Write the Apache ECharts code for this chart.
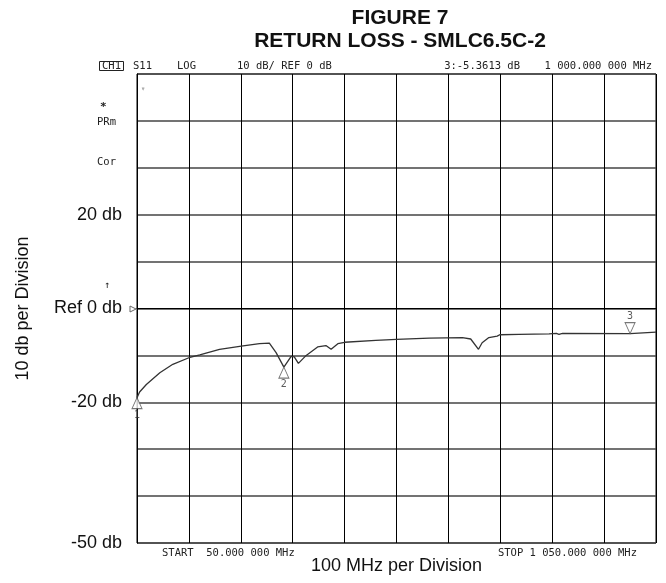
<!DOCTYPE html>
<html>
<head>
<meta charset="UTF-8" />
<script src="https://cdn.jsdelivr.net/npm/echarts@6/dist/echarts.min.js"></script>
<style>
  html, body, #main { margin: 0; padding: 0; width: 666px; height: 583px; background: #fff; }
</style>
</head>
<body>
<div id="main"></div>
<script>
  // sweep: 50 MHz to 1050 MHz, 100 MHz per division
  const START_MHZ = 50;
  const FREQ_MHZ = [50, 55, 68, 94, 119, 150, 171, 209, 251, 286, 305, 318, 333, 347, 353, 361, 376, 398,
    414, 424, 437, 450, 510, 550, 613, 677, 693, 708, 715, 728, 744, 749, 786, 844, 858, 863, 870, 1000, 1050];
  const RL_DB = [-19.0, -17.8, -16.2, -13.7, -11.9, -10.5, -9.9, -8.7, -8.0, -7.5, -7.4, -9.4, -12.5, -10.2,
    -10.3, -11.7, -10.0, -8.2, -7.9, -8.7, -7.5, -7.2, -6.8, -6.6, -6.3, -6.2, -6.5, -8.7, -7.3, -6.2,
    -5.9, -5.6, -5.5, -5.4, -5.3, -5.5, -5.3, -5.36, -5.05];

  const MARKER_MHZ = [50, 333, 1000];
  const MARKER_DB = [-19.0, -12.5, -5.36];
  const MARKER_NAMES = ['1', '2', '3'];

  const Y_LABELS = { '20': '20 db', '0': 'Ref 0 db', '-20': '-20 db', '-50': '-50 db' };

  const mono = 'DejaVu Sans Mono';
  const sans = 'Liberation Sans';

  const chart = echarts.init(document.getElementById('main'));

  const txt = (x, y, text, align, extra) => ({
    type: 'text', x: x, y: y,
    style: Object.assign({ text: text, font: '10.5px "' + mono + '"', fill: '#222',
      textAlign: align || 'left', textVerticalAlign: 'middle' }, extra || {})
  });

  const option = {
    animation: false,
    title: {
      text: 'FIGURE 7\nRETURN LOSS - SMLC6.5C-2',
      left: 395, top: 2, textAlign: 'center',
      textStyle: { fontSize: 21, fontWeight: 'bold', fontFamily: sans, color: '#111', lineHeight: 23 }
    },
    grid: { left: 137, right: 10, top: 74, bottom: 40, show: true, borderColor: '#000', borderWidth: 1,
      containLabel: false, outerBoundsMode: 'none' },
    xAxis: {
      type: 'value', min: 0, max: 1000, interval: 100,
      name: '100 MHz per Division', nameLocation: 'middle', nameGap: 14,
      nameTextStyle: { fontSize: 18, fontFamily: sans, color: '#111' },
      axisLine: { show: true, lineStyle: { color: '#000' } },
      axisTick: { show: false }, axisLabel: { show: false },
      splitLine: { show: true, lineStyle: { color: '#000', width: 1 } }
    },
    yAxis: {
      type: 'value', min: -50, max: 50, interval: 10,
      name: '10 db per Division', nameLocation: 'middle', nameGap: 105, nameRotate: 90,
      nameTextStyle: { fontSize: 18, fontFamily: sans, color: '#111' },
      axisLine: { show: true, lineStyle: { color: '#000' } },
      axisTick: { show: false },
      axisLabel: {
        margin: 15, fontSize: 18, fontFamily: sans, color: '#111',
        formatter: v => Y_LABELS[String(v)] || ''
      },
      splitLine: { show: true, lineStyle: { color: '#444', width: 1.5 } }
    },
    series: [
      {
        type: 'line',
        data: FREQ_MHZ.map((f, i) => [f - START_MHZ, RL_DB[i]]),
        showSymbol: false,
        lineStyle: { color: '#333', width: 1.3 }
      },
      {
        type: 'scatter',
        clip: false,
        symbol: 'triangle',
        symbolSize: [10, 11],
        itemStyle: { color: '#fff', borderColor: '#555', borderWidth: 1 },
        label: { show: true, fontFamily: mono, fontSize: 10, color: '#333',
          formatter: p => MARKER_NAMES[p.dataIndex] },
        data: MARKER_MHZ.map((f, i) => {
          const up = i < 2;
          return {
            value: [f - START_MHZ, MARKER_DB[i]],
            symbolRotate: up ? 0 : 180,
            symbolOffset: [0, up ? 5.5 : -5.5],
            label: { position: up ? 'bottom' : 'top', distance: 1 }
          };
        }),
        z: 5
      }
    ],
    graphic: [
      { type: 'rect', shape: { x: 99.5, y: 61.5, width: 24, height: 9 },
        style: { fill: 'none', stroke: '#222', lineWidth: 1 } },
      txt(111.5, 66, 'CH1', 'center'),
      txt(133, 66, 'S11'),
      txt(177, 66, 'LOG'),
      txt(237, 66, '10 dB/ REF 0 dB'),
      txt(520, 66, '3:-5.3613 dB', 'right'),
      txt(652, 66, '1 000.000 000 MHz', 'right'),
      txt(100, 107, '*', 'left', { font: 'bold 11px "' + mono + '"' }),
      txt(97, 122, 'PRm'),
      txt(97, 162, 'Cor'),
      txt(107, 285, '\u2191', 'center', { font: '10px "' + mono + '"' }),
      txt(143, 89, '\u25bf', 'center', { font: '7px "' + mono + '"', fill: '#555' }),
      { type: 'polygon', shape: { points: [[130, 306], [136, 309], [130, 312]] },
        style: { fill: '#fff', stroke: '#666', lineWidth: 1 } },
      txt(162, 553, 'START  50.000 000 MHz'),
      txt(637, 553, 'STOP 1 050.000 000 MHz', 'right')
    ]
  };

  chart.setOption(option);
</script>
</body>
</html>
